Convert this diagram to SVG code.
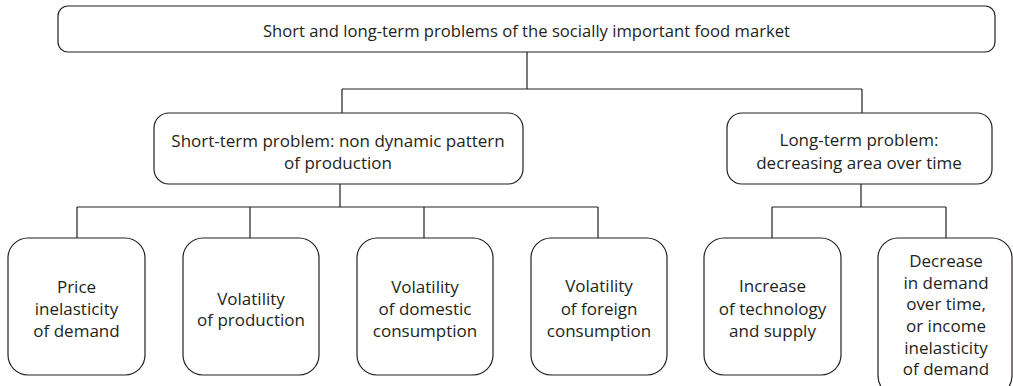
<svg xmlns="http://www.w3.org/2000/svg" width="1013" height="386" viewBox="0 0 1013 386">
<style>
.box{fill:#fff;stroke:#231f20;stroke-width:1.2}
.con{fill:none;stroke:#231f20;stroke-width:1.2}
text{font-family:"Open Sans","Noto Sans",sans-serif;fill:#231f20;text-anchor:middle;dominant-baseline:central}
.t{font-size:17px}
.title{font-size:16.5px}
</style>
<rect width="1013" height="386" fill="#fff"/>
<g id="connectors">
<path class="con" d="M527 52V89M342 89H862M342 89V113M862 89V113"/>
<path class="con" d="M340 184V207M77 207H598M77 207V238M250 207V238M424 207V238M598 207V238"/>
<path class="con" d="M861 184V207M772 207H946M772 207V238M946 207V238"/>
</g>
<g id="root">
<rect class="box" x="58" y="6" width="937" height="46" rx="10"/>
<text class="title" x="526.5" y="30" textLength="527" lengthAdjust="spacingAndGlyphs">Short and long-term problems of the socially important food market</text>
</g>
<g id="short-term">
<rect class="box" x="154" y="113" width="369" height="71" rx="15"/>
<text class="t" x="338" y="140">Short-term problem: non dynamic pattern</text>
<text class="t" x="338" y="162">of production</text>
</g>
<g id="long-term">
<rect class="box" x="727" y="113" width="265" height="71" rx="15"/>
<text class="t" x="859" y="139">Long-term problem:</text>
<text class="t" x="859" y="162">decreasing area over time</text>
</g>
<g id="price">
<rect class="box" x="8" y="238" width="137" height="137" rx="20"/>
<text class="t" x="76.5" y="286">Price</text>
<text class="t" x="76.5" y="308">inelasticity</text>
<text class="t" x="76.5" y="330">of demand</text>
</g>
<g id="vol-production">
<rect class="box" x="183" y="238" width="136" height="137" rx="20"/>
<text class="t" x="251" y="298">Volatility</text>
<text class="t" x="251" y="319">of production</text>
</g>
<g id="vol-domestic">
<rect class="box" x="357" y="238" width="136" height="137" rx="20"/>
<text class="t" x="425" y="286">Volatility</text>
<text class="t" x="425" y="308">of domestic</text>
<text class="t" x="425" y="330">consumption</text>
</g>
<g id="vol-foreign">
<rect class="box" x="531" y="238" width="136" height="137" rx="20"/>
<text class="t" x="599" y="285">Volatility</text>
<text class="t" x="599" y="308">of foreign</text>
<text class="t" x="599" y="330">consumption</text>
</g>
<g id="technology">
<rect class="box" x="704" y="238" width="137" height="137" rx="20"/>
<text class="t" x="772.5" y="285">Increase</text>
<text class="t" x="772.5" y="308">of technology</text>
<text class="t" x="772.5" y="330">and supply</text>
</g>
<g id="decrease-demand">
<rect class="box" x="878" y="238" width="134" height="158" rx="20"/>
<text class="t" x="946" y="260">Decrease</text>
<text class="t" x="946" y="282">in demand</text>
<text class="t" x="946" y="303">over time,</text>
<text class="t" x="946" y="325">or income</text>
<text class="t" x="946" y="347">inelasticity</text>
<text class="t" x="946" y="368">of demand</text>
</g>
</svg>
